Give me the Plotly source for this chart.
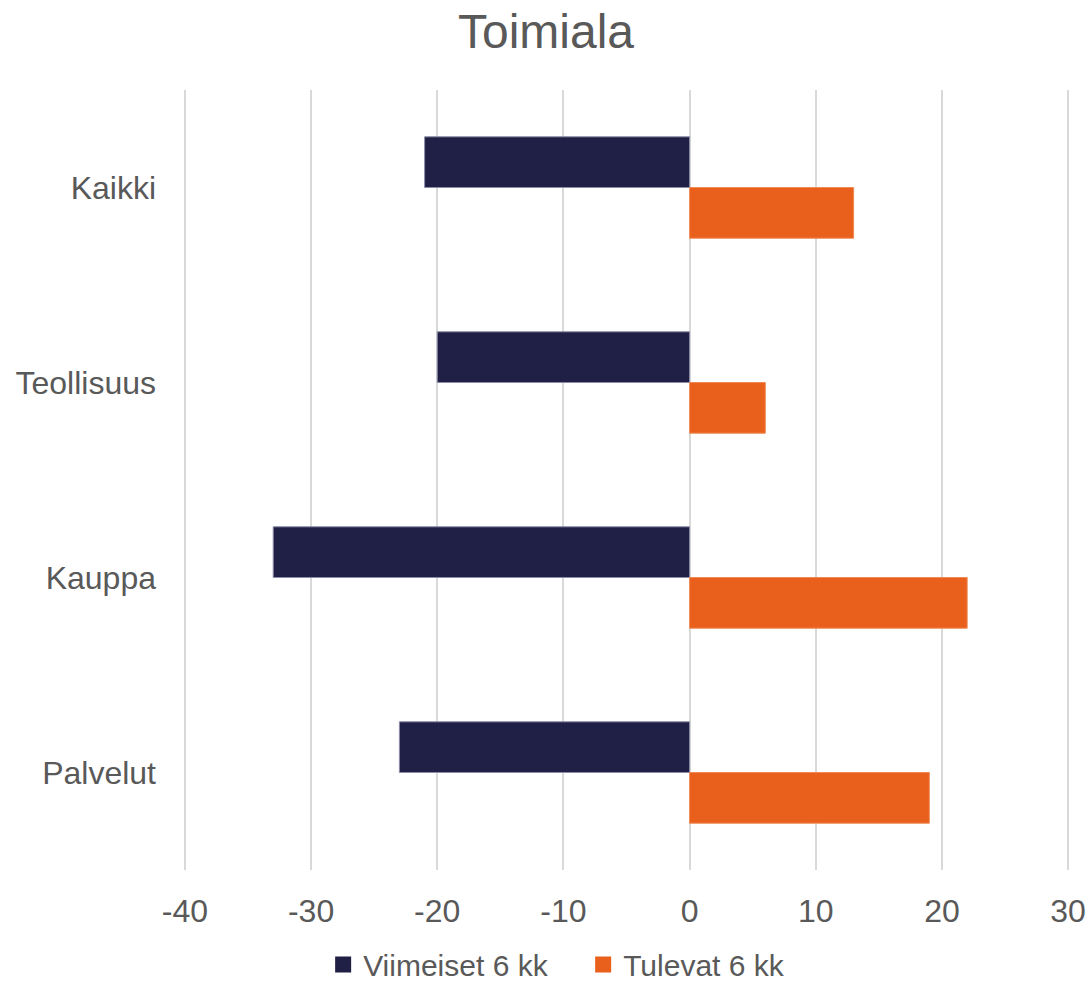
import plotly.graph_objects as go

categories = ["Kaikki", "Teollisuus", "Kauppa", "Palvelut"]
viimeiset = [-21, -20, -33, -23]
tulevat = [13, 6, 22, 19]
x_ticks = [-40, -30, -20, -10, 0, 10, 20, 30]
x_tick_labels = ["-40", "-30", "-20", "-10", "0", "10", "20", "30"]
series_names = ["Viimeiset 6 kk", "Tulevat 6 kk"]
series_colors = ["#201F45", "#E8601C"]
series_edges = ["#8C8CA8", "#F08A55"]

FONT = "Liberation Sans, Arial, sans-serif"
TXT = "#595959"

fig = go.Figure()
for vals, name, col, edge in zip([viimeiset, tulevat], series_names, series_colors, series_edges):
    fig.add_trace(go.Bar(
        y=categories, x=vals, orientation="h", name=name, showlegend=False,
        marker=dict(color=col, line=dict(color=edge, width=1)),
    ))
# legend entries with larger square swatches
for name, col in zip(series_names, series_colors):
    fig.add_trace(go.Scatter(
        x=[None], y=[None], mode="markers", name=name,
        marker=dict(symbol="square", size=16, color=col),
    ))

fig.update_layout(
    width=1092, height=984,
    paper_bgcolor="white", plot_bgcolor="white",
    margin=dict(l=183, r=22, t=90, b=114, pad=0, autoexpand=False),
    barmode="group", bargap=0.48, bargroupgap=0,
    font=dict(family=FONT, color=TXT, size=32),
    title=dict(text="Toimiala", x=0.5, xanchor="center", y=0.968, yanchor="middle",
               font=dict(size=48, color=TXT, family=FONT)),
    legend=dict(orientation="h", x=0.158, xanchor="left", y=-0.121, yanchor="middle",
                font=dict(size=30, color=TXT), itemwidth=30, traceorder="normal",
                entrywidth=215, entrywidthmode="pixels"),
    xaxis=dict(range=[-40.15, 30.15], tickvals=x_ticks, ticktext=x_tick_labels,
               showgrid=True, gridcolor="#D9D9D9",
               gridwidth=2, zeroline=False, showline=False, ticks="",
               tickfont=dict(size=32, color=TXT), ticklabelstandoff=19),
    yaxis=dict(autorange="reversed", showgrid=False, zeroline=False, showline=False,
               ticks="", tickfont=dict(size=32, color=TXT), ticklabelstandoff=26),
)

fig.write_html("out.html", config={"displayModeBar": False},
               post_script="document.body.style.margin='0';document.body.style.overflow='hidden';")
